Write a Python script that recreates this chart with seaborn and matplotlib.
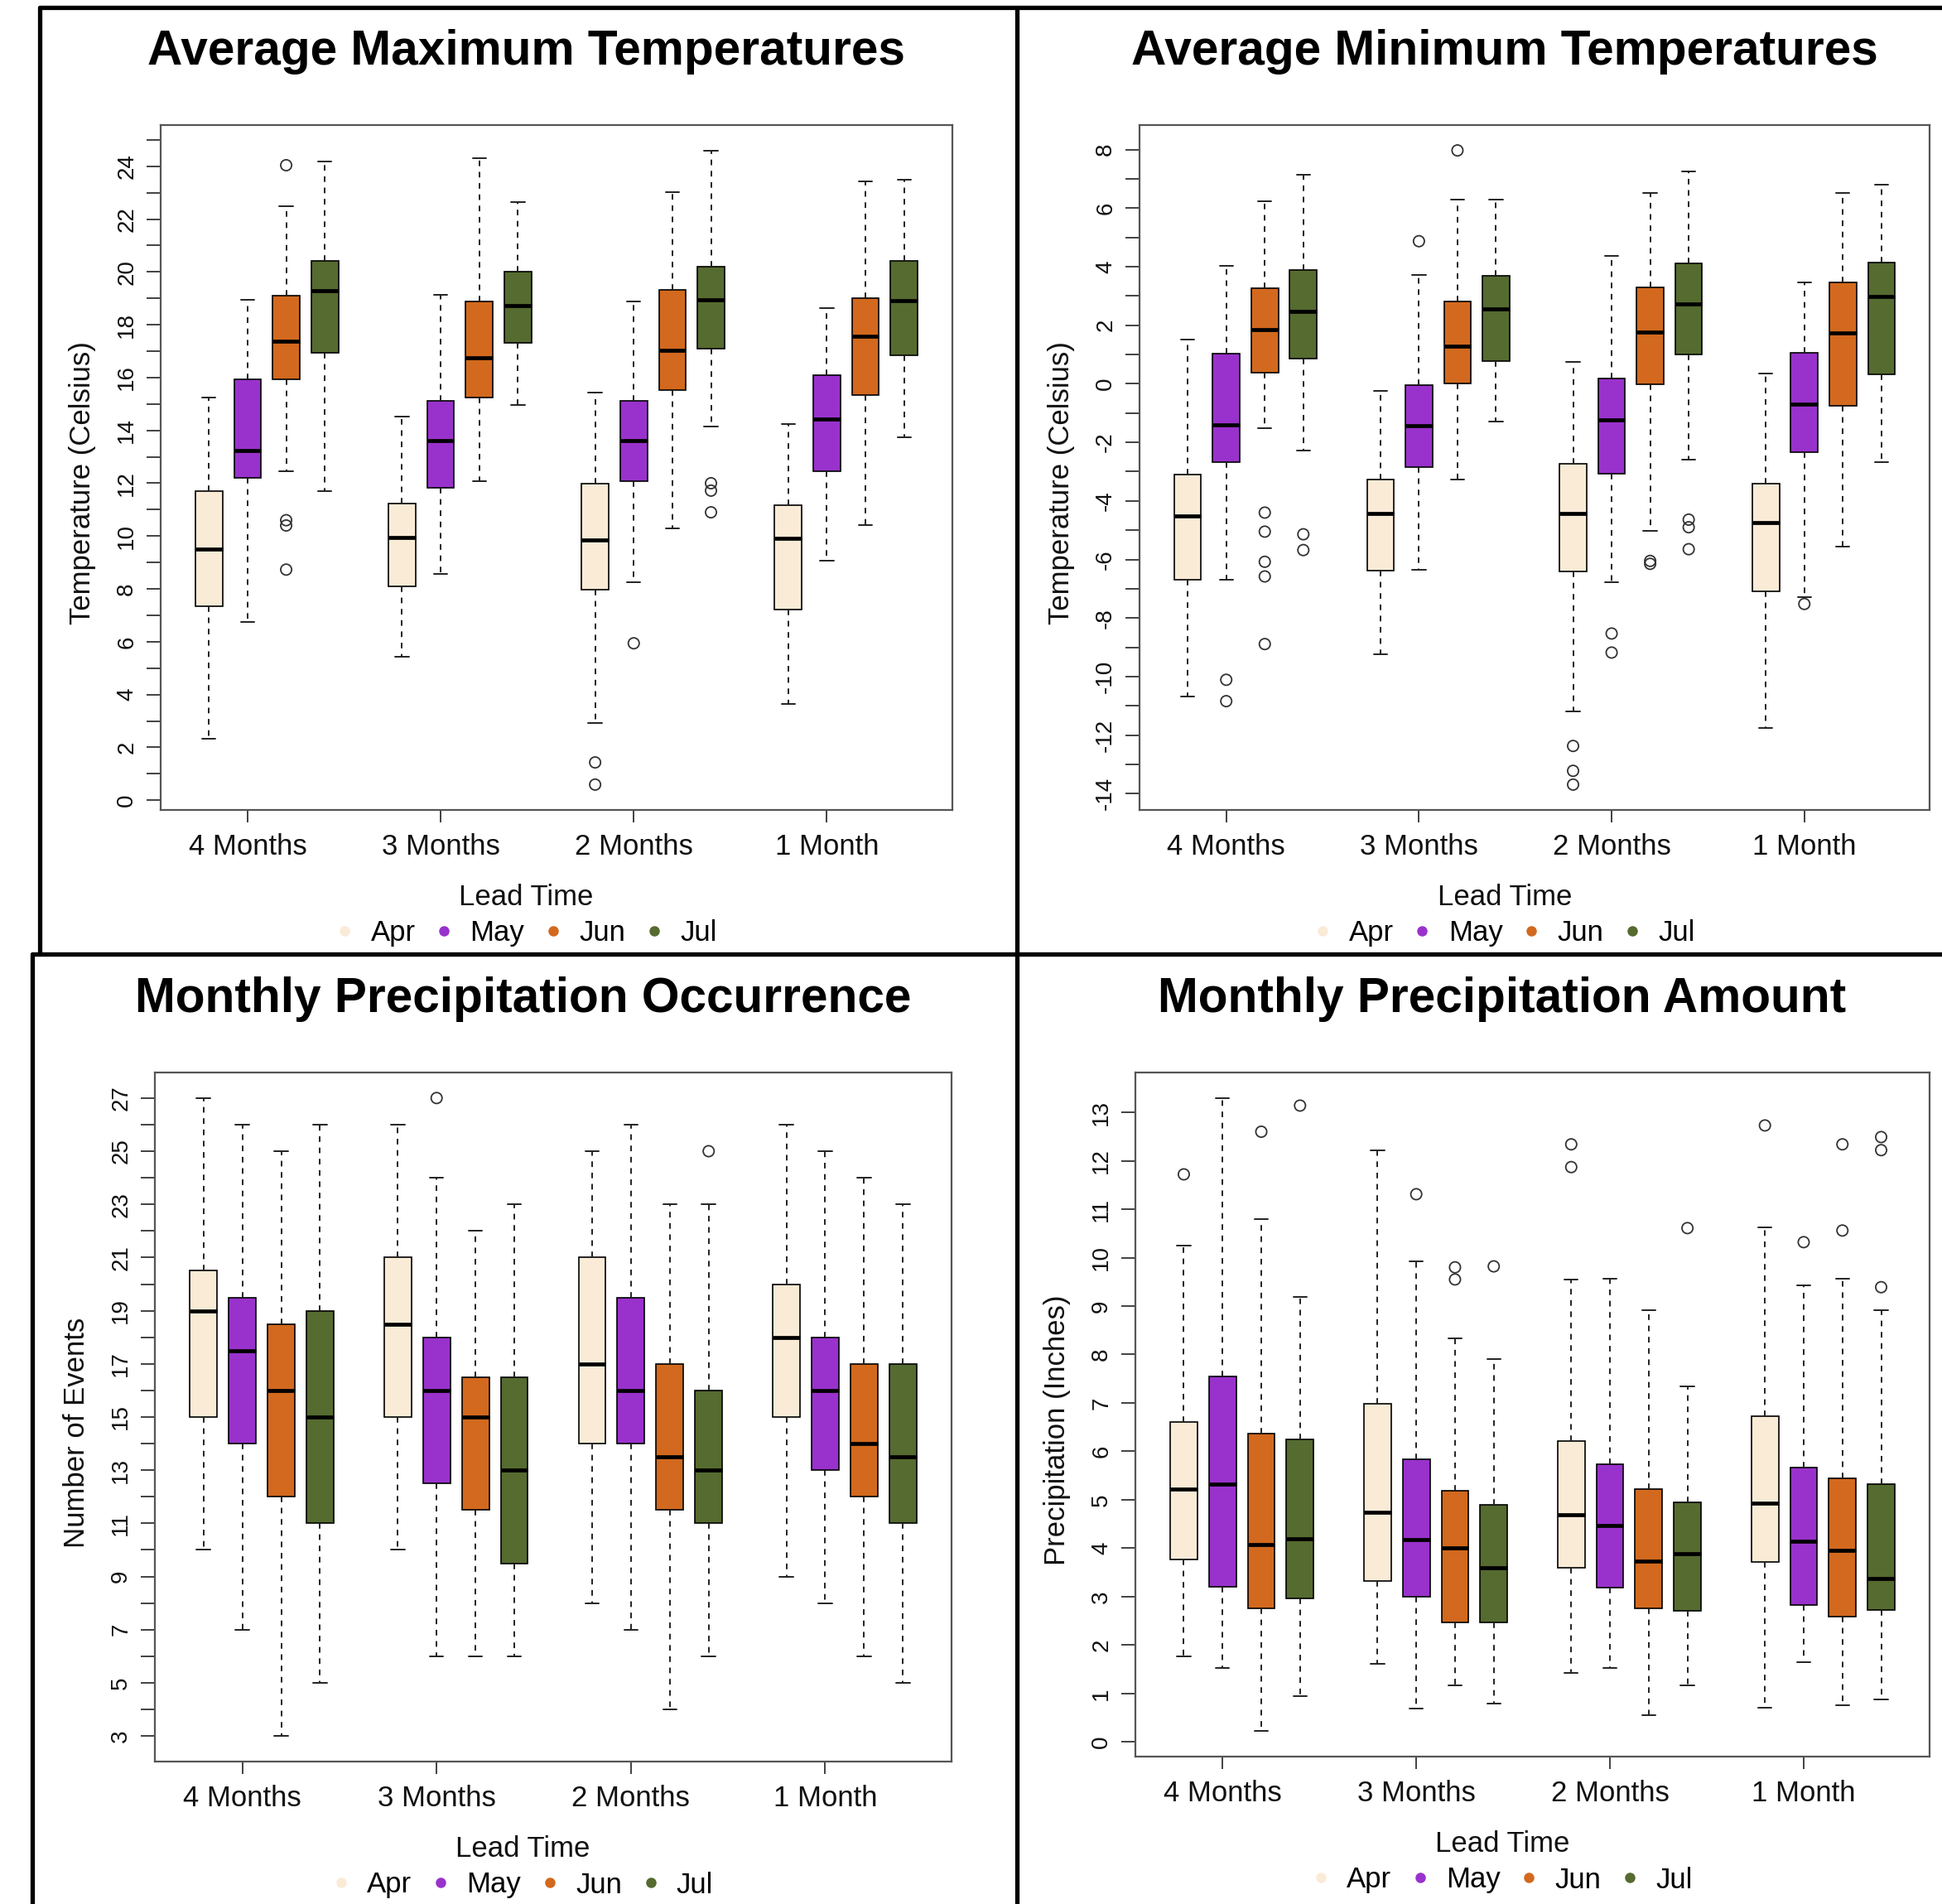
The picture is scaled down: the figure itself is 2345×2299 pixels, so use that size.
import numpy as np
import pandas as pd
import matplotlib
matplotlib.use("Agg")
import matplotlib.pyplot as plt
import seaborn as sns
from matplotlib.lines import Line2D

W, H = 2345, 2299

leads = ["4 Months", "3 Months", "2 Months", "1 Month"]
months = ["Apr", "May", "Jun", "Jul"]
month_colors = ["#FAEBD7", "#9932CC", "#D2691E", "#556B2F"]

# box stats, rows = lead time, columns = month
# --- average maximum temperatures
tmax_lo = [[2.32, 6.76, 12.44, 11.70], [5.42, 8.57, 12.07, 14.97],
           [2.91, 8.24, 10.29, 14.15], [3.65, 9.07, 10.41, 13.75]]
tmax_q1 = [[7.35, 12.19, 15.95, 16.94], [8.11, 11.84, 15.23, 17.31],
           [7.97, 12.07, 15.54, 17.09], [7.23, 12.44, 15.34, 16.83]]
tmax_med = [[9.50, 13.25, 17.38, 19.29], [9.95, 13.60, 16.75, 18.73],
            [9.86, 13.61, 17.02, 18.95], [9.91, 14.42, 17.56, 18.92]]
tmax_q3 = [[11.69, 15.95, 19.09, 20.43], [11.24, 15.13, 18.88, 20.02],
           [11.98, 15.13, 19.31, 20.19], [11.17, 16.09, 19.00, 20.43]]
tmax_hi = [[15.23, 18.93, 22.50, 24.18], [14.53, 19.14, 24.32, 22.63],
           [15.44, 18.88, 23.03, 24.60], [14.23, 18.62, 23.44, 23.48]]
tmax_out = [(0, "Jun", 24.04), (0, "Jun", 10.60), (0, "Jun", 10.40), (0, "Jun", 8.73),
            (2, "Apr", 1.43), (2, "Apr", 0.59), (2, "May", 5.94),
            (2, "Jul", 12.00), (2, "Jul", 11.72), (2, "Jul", 10.90)]

# --- average minimum temperatures
tmin_lo = [[-10.69, -6.69, -1.51, -2.28], [-9.23, -6.35, -3.26, -1.30],
           [-11.20, -6.77, -5.01, -2.59], [-11.75, -7.28, -5.57, -2.67]]
tmin_q1 = [[-6.69, -2.67, 0.37, 0.85], [-6.38, -2.85, 0.02, 0.77],
           [-6.41, -3.07, -0.02, 1.00], [-7.10, -2.34, -0.75, 0.32]]
tmin_med = [[-4.52, -1.41, 1.84, 2.47], [-4.42, -1.42, 1.28, 2.57],
            [-4.44, -1.22, 1.77, 2.73], [-4.75, -0.71, 1.75, 2.99]]
tmin_q3 = [[-3.09, 1.03, 3.27, 3.90], [-3.27, -0.04, 2.81, 3.68],
           [-2.74, 0.18, 3.29, 4.10], [-3.40, 1.05, 3.46, 4.14]]
tmin_hi = [[1.52, 4.04, 6.24, 7.13], [-0.25, 3.71, 6.29, 6.29],
           [0.74, 4.36, 6.51, 7.26], [0.35, 3.46, 6.51, 6.79]]
tmin_out = [(0, "May", -10.11), (0, "May", -10.84),
            (0, "Jun", -4.40), (0, "Jun", -5.05), (0, "Jun", -6.08), (0, "Jun", -6.58), (0, "Jun", -8.89),
            (0, "Jul", -5.14), (0, "Jul", -5.68),
            (1, "May", 4.87), (1, "Jun", 7.97),
            (2, "Apr", -12.37), (2, "Apr", -13.22), (2, "Apr", -13.69),
            (2, "May", -8.53), (2, "May", -9.18),
            (2, "Jun", -6.05), (2, "Jun", -6.15),
            (2, "Jul", -4.64), (2, "Jul", -4.90), (2, "Jul", -5.65),
            (3, "May", -7.52)]

# --- monthly precipitation occurrence
occ_lo = [[10, 7, 3, 5], [10, 6, 6, 6], [8, 7, 4, 6], [9, 8, 6, 5]]
occ_q1 = [[15, 14, 12, 11], [15, 12.5, 11.5, 9.5], [14, 14, 11.5, 11], [15, 13, 12, 11]]
occ_med = [[19, 17.5, 16, 15], [18.5, 16, 15, 13], [17, 16, 13.5, 13], [18, 16, 14, 13.5]]
occ_q3 = [[20.5, 19.5, 18.5, 19], [21, 18, 16.5, 16.5], [21, 19.5, 17, 16], [20, 18, 17, 17]]
occ_hi = [[27, 26, 25, 26], [26, 24, 22, 23], [25, 26, 23, 23], [26, 25, 24, 23]]
occ_out = [(1, "May", 27), (2, "Jul", 25)]

# --- monthly precipitation amount
amt_lo = [[1.77, 1.52, 0.22, 0.95], [1.61, 0.69, 1.17, 0.79],
          [1.42, 1.52, 0.55, 1.17], [0.71, 1.64, 0.76, 0.88]]
amt_q1 = [[3.76, 3.21, 2.75, 2.97], [3.32, 3.00, 2.46, 2.46],
          [3.59, 3.18, 2.75, 2.70], [3.71, 2.83, 2.59, 2.73]]
amt_med = [[5.22, 5.32, 4.08, 4.19], [4.75, 4.18, 4.01, 3.59],
           [4.69, 4.47, 3.74, 3.89], [4.93, 4.14, 3.95, 3.38]]
amt_q3 = [[6.60, 7.55, 6.36, 6.24], [6.98, 5.84, 5.18, 4.90],
          [6.21, 5.74, 5.22, 4.94], [6.72, 5.66, 5.44, 5.33]]
amt_hi = [[10.25, 13.30, 10.79, 9.19], [12.22, 9.92, 8.33, 7.90],
          [9.55, 9.57, 8.92, 7.34], [10.63, 9.42, 9.57, 8.92]]
amt_out = [(0, "Apr", 11.72), (0, "Jun", 12.60), (0, "Jul", 13.14),
           (1, "May", 11.31), (1, "Jun", 9.80), (1, "Jun", 9.55), (1, "Jul", 9.82),
           (2, "Apr", 12.34), (2, "Apr", 11.87), (2, "Jul", 10.61),
           (3, "Apr", 12.73), (3, "May", 10.32), (3, "Jun", 12.34), (3, "Jun", 10.56),
           (3, "Jul", 12.49), (3, "Jul", 12.22), (3, "Jul", 9.39)]


def box_frame(lo, q1, med, q3, hi):
    # five numbers per box, seaborn gets exact quartiles back from them
    rows = []
    for i, lead in enumerate(leads):
        for j, mon in enumerate(months):
            for v in (lo[i][j], q1[i][j], med[i][j], q3[i][j], hi[i][j]):
                rows.append((lead, mon, v))
    return pd.DataFrame(rows, columns=["lead", "month", "value"])


def out_frame(out):
    return pd.DataFrame([(leads[i], m, v) for i, m, v in out],
                        columns=["lead", "month", "value"])


sns.set_theme(style="white")
plt.rcParams["font.family"] = ["Liberation Sans", "DejaVu Sans"]
plt.rcParams["axes.unicode_minus"] = False
plt.rcParams["text.color"] = "black"
plt.rcParams["axes.labelcolor"] = "black"

fig = plt.figure(figsize=(W / 100, H / 100), dpi=100)
pal = dict(zip(months, month_colors))


def make_axes(l, t, r, b):
    return fig.add_axes([l / W, 1 - b / H, (r - l) / W, (b - t) / H]), (r - l), (b - t)


def panel(box, df, outs, title, ylabel, major, minor):
    ax, w, h = make_axes(*box)
    sns.boxplot(data=df, x="lead", y="value", hue="month", order=leads, hue_order=months,
                palette=pal, saturation=1, width=0.8, gap=0.3, whis=(0, 100),
                linecolor="black", linewidth=1.2,
                whiskerprops=dict(linestyle=(0, (3.5, 3.5)), color="#222222", linewidth=1.4),
                capprops=dict(color="#222222", linewidth=1.4),
                medianprops=dict(color="black", linewidth=3.4),
                legend=False, ax=ax)
    n = len(ax.collections)
    sns.stripplot(data=outs, x="lead", y="value", hue="month", order=leads, hue_order=months,
                  palette=pal, dodge=True, jitter=False, size=9.5, marker="o",
                  linewidth=1.3, edgecolor="#333333", legend=False, ax=ax)
    for c in ax.collections[n:]:
        c.set_facecolor("none")

    allv = np.concatenate([df["value"].values, outs["value"].values])
    lo, hi = allv.min(), allv.max()
    pad = 0.04 * (hi - lo)
    ax.set_ylim(lo - pad, hi + pad)
    ax.set_xlim(-0.55, 3.55)

    ax.set_xticks(np.arange(4) - 0.1, leads)
    ax.set_yticks(major, [str(v) for v in major])
    ax.set_yticks(minor, minor=True)
    ax.tick_params(axis="x", bottom=True, length=11, width=1.3, pad=9,
                   labelsize=25, color="#333333", labelcolor="#111111")
    ax.tick_params(axis="y", which="both", left=True, length=12, width=1.3, pad=8,
                   labelsize=20, labelrotation=90, color="#333333", labelcolor="#111111")
    for lbl in ax.get_yticklabels():
        lbl.set_va("center")

    for s in ax.spines.values():
        s.set_visible(True)
        s.set_color("#555555")
        s.set_linewidth(1.6)

    ax.set_title(title, x=0.462, y=1 + 88 / h, pad=0, fontsize=42.2,
                 fontweight="bold", va="center", color="black")
    ax.set_ylabel(ylabel, fontsize=25, color="#111111")
    ax.yaxis.set_label_coords(-94 / w, 0.5 - 19 / h)
    ax.yaxis.label.set_va("center")
    ax.set_xlabel("Lead Time", fontsize=25, color="#111111")
    ax.xaxis.set_label_coords(0.462, -106 / h)
    ax.xaxis.label.set_va("center")

    handles = [Line2D([], [], marker="o", ls="", color=c, markersize=9,
                      markeredgewidth=0) for c in month_colors]
    ax.legend(handles, months, loc="center", bbox_to_anchor=(0.462, -149 / h),
              ncol=4, frameon=False, fontsize=25, handlelength=0.6,
              handletextpad=0.6, columnspacing=0.7, borderaxespad=0, borderpad=0)
    return ax


panel((194, 151, 1150, 978), box_frame(tmax_lo, tmax_q1, tmax_med, tmax_q3, tmax_hi),
      out_frame(tmax_out), "Average Maximum Temperatures", "Temperature (Celsius)",
      list(range(0, 25, 2)), list(range(0, 26)))
panel((1376, 151, 2330, 978), box_frame(tmin_lo, tmin_q1, tmin_med, tmin_q3, tmin_hi),
      out_frame(tmin_out), "Average Minimum Temperatures", "Temperature (Celsius)",
      list(range(-14, 9, 2)), list(range(-14, 9)))
panel((187, 1295, 1149, 2127), box_frame(occ_lo, occ_q1, occ_med, occ_q3, occ_hi),
      out_frame(occ_out), "Monthly Precipitation Occurrence", "Number of Events",
      list(range(3, 28, 2)), list(range(3, 28)))
panel((1371, 1295, 2330, 2121), box_frame(amt_lo, amt_q1, amt_med, amt_q3, amt_hi),
      out_frame(amt_out), "Monthly Precipitation Amount", "Precipitation (Inches)",
      list(range(0, 14)), [])

# heavy frames around the four panels
for (x0, y0, x1, y1) in [(48, 9, W, 9), (39, 1152, W, 1152), (48, 9, 48, 1152),
                         (39, 1152, 39, H), (1228, 9, 1228, H)]:
    fig.add_artist(Line2D([x0 / W, x1 / W], [1 - y0 / H, 1 - y1 / H],
                          transform=fig.transFigure, color="black", lw=3.8))

fig.savefig("out.png", dpi=100, facecolor="white")
